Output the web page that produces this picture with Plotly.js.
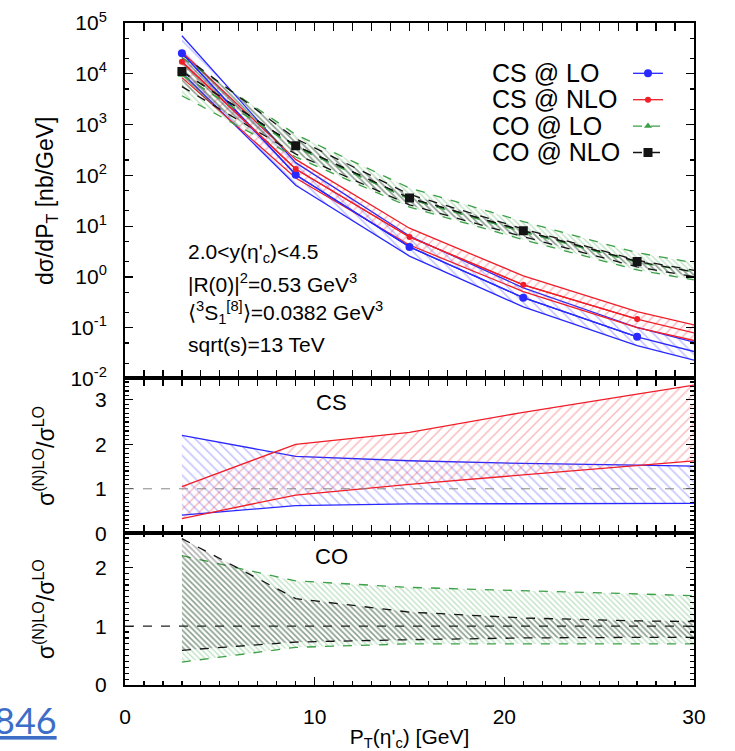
<!DOCTYPE html>
<html><head><meta charset="utf-8">
<script src="https://cdn.plot.ly/plotly-3.0.1.min.js"></script>
<style>html,body{margin:0;padding:0;background:#fff}</style>
</head><body><div id="chart" style="width:735px;height:751px"></div>
<script>
// ---- data ----
const bandX = [3, 9, 15, 21, 27, 30];
const ptX = [3, 9, 15, 21, 27];

// top panel: dσ/dPT [nb/GeV]
const csLO_pts  = [2.55e4, 103, 3.9, 0.39, 0.066];
const csLO_line = [2.55e4, 103, 3.9, 0.39, 0.066, 0.034];
const csLO_hi   = [5.6e4, 178, 6.4, 0.61, 0.101, 0.052];
const csLO_lo   = [1.05e4, 64, 2.57, 0.257, 0.0446, 0.023];

const csNLO_pts  = [1.72e4, 133, 6.1, 0.70, 0.148];
const csNLO_line = [1.72e4, 133, 6.1, 0.70, 0.148, 0.079];
const csNLO_hi   = [2.68e4, 206, 9.1, 1.05, 0.207, 0.114];
const csNLO_lo   = [8.4e3, 88.6, 4.25, 0.515, 0.100, 0.056];

const coLO_pts  = [9.5e3, 360, 34, 7.7, 1.95];
const coLO_line = [9.5e3, 360, 34, 7.7, 1.95, 1.25];
const coLO_hi   = [2.09e4, 637, 56.4, 12.3, 3.0, 1.9];
const coLO_lo   = [3.7e3, 230, 23.8, 5.4, 1.37, 0.875];

const coNLO_pts  = [1.11e4, 383, 35.7, 8.1, 2.02];
const coNLO_line = [1.11e4, 383, 35.7, 8.1, 2.02, 1.25];
const coNLO_hi   = [2.37e4, 529, 42.2, 8.8, 2.13, 1.35];
const coNLO_lo   = [5.6e3, 263, 26.2, 6.2, 1.58, 1.01];

// ratio panels σ^(N)LO / σ^LO
const csLOratio_hi  = [2.2, 1.73, 1.63, 1.57, 1.53, 1.51];
const csLOratio_lo  = [0.41, 0.62, 0.66, 0.66, 0.67, 0.67];
const csNLOratio_hi = [1.05, 2.0, 2.27, 2.72, 3.13, 3.33];
const csNLOratio_lo = [0.33, 0.86, 1.10, 1.31, 1.51, 1.63];

const coLOratio_hi  = [2.2, 1.77, 1.66, 1.6, 1.54, 1.52];
const coLOratio_lo  = [0.39, 0.64, 0.70, 0.70, 0.70, 0.70];
const coNLOratio_hi = [2.49, 1.47, 1.24, 1.14, 1.09, 1.08];
const coNLOratio_lo = [0.59, 0.73, 0.77, 0.80, 0.81, 0.81];

const seriesNames = ['CS @ LO', 'CS @ NLO', 'CO @ LO', 'CO @ NLO'];
const topTickVals = [1e-2, 1e-1, 1, 10, 100, 1e3, 1e4, 1e5];
const topTickText = ['10<sup>-2</sup>','10<sup>-1</sup>','10<sup>0</sup>','10<sup>1</sup>','10<sup>2</sup>','10<sup>3</sup>','10<sup>4</sup>','10<sup>5</sup>'];

// ---- styles ----
const BLUE = 'rgb(40,40,255)', RED = 'rgb(240,30,40)', GREEN = 'rgb(60,160,70)', BLACK = 'rgb(20,20,20)';
const FONT = 'Liberation Sans, Arial, sans-serif';

function band(x, lo, hi, yaxis, color, dash, pat) {
  return [
    {x: x, y: lo, yaxis: yaxis, type: 'scatter', mode: 'lines', showlegend: false, hoverinfo: 'skip',
     line: {color: color, width: 1.3, dash: dash}},
    {x: x, y: hi, yaxis: yaxis, type: 'scatter', mode: 'lines', showlegend: false, hoverinfo: 'skip',
     line: {color: color, width: 1.3, dash: dash}, fill: 'tonexty', fillcolor: 'rgba(0,0,0,0)',
     fillpattern: pat}
  ];
}
const patBlue  = {shape: '\\', size: 7, solidity: 0.2, fgcolor: 'rgba(60,60,255,0.7)', bgcolor: 'rgba(0,0,0,0)', fillmode: 'overlay'};
const patRed   = {shape: '/',  size: 7, solidity: 0.2, fgcolor: 'rgba(240,50,60,0.7)', bgcolor: 'rgba(0,0,0,0)', fillmode: 'overlay'};
const patGreen = {shape: '\\', size: 4, solidity: 0.35, fgcolor: 'rgba(60,165,75,0.65)', bgcolor: 'rgba(0,0,0,0)', fillmode: 'overlay'};
const patBlack = {shape: '\\', size: 4, solidity: 0.4, fgcolor: 'rgba(30,30,30,0.7)', bgcolor: 'rgba(0,0,0,0)', fillmode: 'overlay'};

let traces = [];
// top panel bands
traces = traces.concat(band(bandX, csLO_lo, csLO_hi, 'y', BLUE, 'solid', patBlue));
traces = traces.concat(band(bandX, csNLO_lo, csNLO_hi, 'y', RED, 'solid', patRed));
traces = traces.concat(band(bandX, coLO_lo, coLO_hi, 'y', GREEN, 'dash', patGreen));
traces = traces.concat(band(bandX, coNLO_lo, coNLO_hi, 'y', BLACK, 'dash', patBlack));
// central lines
const centralDefs = [
  [csLO_line, BLUE, 'solid'], [csNLO_line, RED, 'solid'], [coLO_line, GREEN, 'dash'], [coNLO_line, BLACK, 'dash']
];
centralDefs.forEach(d => traces.push({x: bandX, y: d[0], yaxis: 'y', type: 'scatter', mode: 'lines',
  showlegend: false, hoverinfo: 'skip', line: {color: d[1], width: 1.3, dash: d[2]}}));
// points (legend entries)
const ptDefs = [
  [csLO_pts, BLUE, 'solid', 'circle', 8],
  [csNLO_pts, RED, 'solid', 'circle', 6],
  [coLO_pts, GREEN, 'dash', 'triangle-up', 7],
  [coNLO_pts, BLACK, 'dash', 'square', 9]
];
ptDefs.forEach((d, i) => traces.push({x: ptX, y: d[0], yaxis: 'y', type: 'scatter', mode: 'lines+markers',
  name: ' ', legendrank: i + 1, line: {color: d[1], width: 1.3, dash: d[2]},
  marker: {color: d[1], symbol: d[3], size: d[4]}}));
// ratio panels
traces = traces.concat(band(bandX, csLOratio_lo, csLOratio_hi, 'y2', BLUE, 'solid', patBlue));
traces = traces.concat(band(bandX, csNLOratio_lo, csNLOratio_hi, 'y2', RED, 'solid', patRed));
traces = traces.concat(band(bandX, coLOratio_lo, coLOratio_hi, 'y3', GREEN, 'dash', patGreen));
traces = traces.concat(band(bandX, coNLOratio_lo, coNLOratio_hi, 'y3', BLACK, 'dash', patBlack));

const axCommon = {showline: true, linecolor: '#000', linewidth: 2, ticks: 'inside', tickcolor: '#000',
  ticklen: 8, tickwidth: 1.2, showgrid: false, zeroline: false, tickfont: {size: 21, color: '#000', family: FONT}};

const legendY = [0.9245, 0.885, 0.8444, 0.805];
const annotations = seriesNames.map((n, i) => ({xref: 'paper', yref: 'paper', x: 0.6415, y: legendY[i],
  xanchor: 'left', yanchor: 'middle', showarrow: false, text: n, font: {size: 25, family: FONT, color: '#000'}}));
const infoLines = [
  "2.0&lt;y(η'<sub>c</sub>)&lt;4.5",
  "|R(0)|<sup>2</sup>=0.53 GeV<sup>3</sup>",
  "⟨<sup>3</sup>S<sub>1</sub><sup>[8]</sup>⟩=0.0382 GeV<sup>3</sup>",
  "sqrt(s)=13 TeV"
];
const infoY = [0.6526, 0.6073, 0.562, 0.5136];
infoLines.forEach((t, i) => annotations.push({xref: 'x', yref: 'paper', x: 3.2, y: infoY[i], xanchor: 'left',
  yanchor: 'middle', showarrow: false, text: t, font: {size: 21, family: FONT, color: '#000'}}));
annotations.push({xref: 'x', yref: 'paper', x: 10.9, y: 0.426, showarrow: false, text: 'CS',
  font: {size: 22, family: FONT, color: '#000'}});
annotations.push({xref: 'x', yref: 'paper', x: 10.9, y: 0.172, showarrow: false, text: 'CO',
  font: {size: 22, family: FONT, color: '#000'}});
annotations.push({xref: 'paper', yref: 'paper', x: -0.2337, y: -0.0529, xanchor: 'left', yanchor: 'middle',
  showarrow: false, text: '<span style="text-decoration:underline">846</span>',
  font: {size: 36, family: 'Lato, sans-serif', color: 'rgb(60,110,200)'}});

const layout = {
  width: 735, height: 751,
  margin: {l: 125, r: 41, t: 23, b: 66, autoexpand: false},
  paper_bgcolor: '#fff', plot_bgcolor: '#fff',
  font: {family: FONT, color: '#000'},
  showlegend: true,
  legend: {x: 0.884, y: 0.9515, xanchor: 'left', yanchor: 'top', bgcolor: 'rgba(0,0,0,0)', borderwidth: 0,
    traceorder: 'normal',
    font: {size: 18, color: 'rgba(0,0,0,0)'}, itemwidth: 30, tracegroupgap: 0},
  xaxis: Object.assign({}, axCommon, {range: [0, 30], dtick: 10, anchor: 'y3', mirror: 'allticks',
    ticklabelstandoff: 12,
    minor: {dtick: 1, ticklen: 4, tickcolor: '#000', ticks: 'inside', showgrid: false},
    title: {text: "P<sub>T</sub>(η'<sub>c</sub>) [GeV]", font: {size: 21, family: FONT, color: '#000'}, standoff: 2}}),
  yaxis: Object.assign({}, axCommon, {type: 'log', range: [-2, 5], domain: [0.463, 1], anchor: 'x', mirror: 'ticks',
    tickvals: topTickVals, ticktext: topTickText, ticklabelstandoff: 12,
    minor: {ticklen: 4, tickcolor: '#000', ticks: 'inside', showgrid: false},
    title: {text: 'dσ/dP<sub>T</sub> [nb/GeV]', font: {size: 23, family: FONT, color: '#000'}, standoff: 10}}),
  yaxis2: Object.assign({}, axCommon, {range: [0, 3.48], domain: [0.2292, 0.463], anchor: 'x', mirror: 'ticks',
    dtick: 1, ticklabelstandoff: 12,
    minor: {dtick: 0.1, ticklen: 4, tickcolor: '#000', ticks: 'inside', showgrid: false},
    title: {text: 'σ<sup>(N)LO</sup>/σ<sup>LO</sup>', font: {size: 23, family: FONT, color: '#000'}, standoff: 34}}),
  yaxis3: Object.assign({}, axCommon, {range: [0, 2.58], domain: [0, 0.2292], anchor: 'x', mirror: 'ticks',
    dtick: 1, ticklabelstandoff: 12,
    minor: {dtick: 0.1, ticklen: 4, tickcolor: '#000', ticks: 'inside', showgrid: false},
    title: {text: 'σ<sup>(N)LO</sup>/σ<sup>LO</sup>', font: {size: 23, family: FONT, color: '#000'}, standoff: 34}}),
  shapes: [
    {type: 'line', xref: 'x domain', x0: 0, x1: 1, yref: 'y2', y0: 1, y1: 1, line: {color: '#888', width: 1, dash: 'dash'}},
    {type: 'line', xref: 'x domain', x0: 0, x1: 1, yref: 'y3', y0: 1, y1: 1, line: {color: '#222', width: 1.2, dash: 'dash'}}
  ],
  annotations: annotations
};

Plotly.newPlot('chart', traces, layout, {displayModeBar: false, staticPlot: true});
</script>
</body></html>
